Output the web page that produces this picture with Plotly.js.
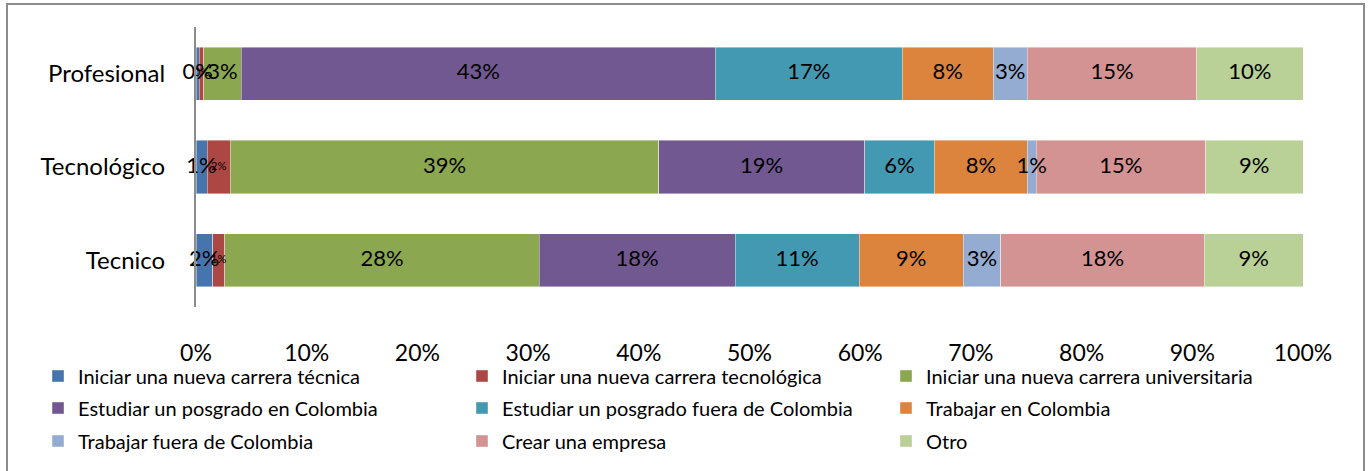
<!DOCTYPE html>
<html>
<head>
<meta charset="utf-8">
<script src="https://cdn.plot.ly/plotly-3.0.1.min.js"></script>
<style>
  html, body { margin: 0; padding: 0; background: #fff; overflow: hidden; }
  #chart { width: 1369px; height: 471px; position: absolute; left: 0; top: 0; }
  #frame { position: absolute; left: 6px; top: 3px; width: 1355px; height: 500px;
           border: 2px solid #8c8c8c; pointer-events: none; }
</style>
</head>
<body>
<div id="chart"></div>
<div id="frame"></div>
<script>
// Categories (top to bottom)
const categories = ["Profesional", "Tecnológico", "Tecnico"];

// Series names
const seriesNames = [
  "Iniciar una nueva carrera técnica",
  "Iniciar una nueva carrera tecnológica",
  "Iniciar una nueva carrera universitaria",
  "Estudiar un posgrado en Colombia",
  "Estudiar un posgrado fuera de Colombia",
  "Trabajar en Colombia",
  "Trabajar fuera de Colombia",
  "Crear una empresa",
  "Otro"
];

// Values (%) per series, in category order [Profesional, Tecnológico, Tecnico]
const carreraTecnica       = [0.3, 1.0, 1.5];
const carreraTecnologica   = [0.4, 2.1, 1.1];
const carreraUniversitaria = [3.4, 38.7, 28.4];
const posgradoColombia     = [42.8, 18.6, 17.7];
const posgradoFuera        = [16.9, 6.3, 11.2];
const trabajarColombia     = [8.2, 8.4, 9.4];
const trabajarFuera        = [3.1, 0.8, 3.4];
const crearEmpresa         = [15.3, 15.3, 18.4];
const otro                 = [9.6, 8.8, 8.9];

// X tick labels
const xTickVals = [0, 10, 20, 30, 40, 50, 60, 70, 80, 90, 100];
const xTickText = ["0%", "10%", "20%", "30%", "40%", "50%", "60%", "70%", "80%", "90%", "100%"];

const seriesValues = [carreraTecnica, carreraTecnologica, carreraUniversitaria,
  posgradoColombia, posgradoFuera, trabajarColombia, trabajarFuera, crearEmpresa, otro];

const colors = ["#4674AC", "#AC4744", "#8BA74F", "#725890", "#4299B1",
                "#DC843E", "#95ACD2", "#D39392", "#B9D097"];
const labelSizes = [22, 11, 22, 22, 22, 22, 22, 22, 22];
const FONT = "Lato, 'Open Sans', sans-serif";

// legend placement (3 columns x 3 rows), in container pixels
const legendColX = [38, 462, 886];
const legendRowY = [376, 408, 441];

const traces = [];
const cum = categories.map(() => 0);
seriesValues.forEach((vals, i) => {
  traces.push({
    type: "bar",
    orientation: "h",
    name: seriesNames[i],
    y: categories,
    x: vals,
    marker: { color: colors[i], line: { color: "rgba(255,255,255,0.6)", width: 0.7 } },
    textposition: "none",
    hoverinfo: "name+x",
    legend: i === 0 ? "legend" : "legend" + (i + 1)
  });
});
// Data labels centered in segments
seriesValues.forEach((vals, i) => {
  const mids = vals.map((v, k) => { const m = cum[k] + v / 2; cum[k] += v; return m; });
  traces.push({
    type: "scatter",
    mode: "text",
    x: mids,
    y: categories,
    customdata: vals,
    texttemplate: "%{customdata:.0f}%",
    textposition: "middle center",
    textfont: { family: FONT, size: labelSizes[i], color: "#000" },
    showlegend: false,
    hoverinfo: "skip",
    cliponaxis: false
  });
});

const layout = {
  width: 1369, height: 471,
  paper_bgcolor: "#fff", plot_bgcolor: "#fff",
  margin: { l: 196, r: 66, t: 27, b: 164 },
  barmode: "stack",
  bargap: 0.43,
  showlegend: true,
  font: { family: FONT, color: "#000" },
  xaxis: {
    range: [0, 100],
    tickvals: xTickVals, ticktext: xTickText,
    showgrid: false, zeroline: false, showline: false,
    ticks: "", ticklabelstandoff: 30,
    tickfont: { family: FONT, size: 23, color: "#000" },
    fixedrange: true
  },
  yaxis: {
    categoryorder: "array", categoryarray: categories,
    autorange: "reversed",
    showgrid: false, zeroline: false,
    showline: true, linecolor: "#8c8c8c", linewidth: 2,
    ticks: "", ticklabelstandoff: 24,
    tickfont: { family: FONT, size: 24, color: "#000" },
    fixedrange: true
  }
};

seriesNames.forEach((n, i) => {
  const key = i === 0 ? "legend" : "legend" + (i + 1);
  layout[key] = {
    orientation: "h",
    xref: "container", yref: "container",
    x: legendColX[i % 3] / 1369, xanchor: "left",
    y: 1 - legendRowY[Math.floor(i / 3)] / 471, yanchor: "middle",
    font: { family: FONT, size: 20, color: "#000" },
    bgcolor: "rgba(0,0,0,0)"
  };
});

Plotly.newPlot("chart", traces, layout, { displayModeBar: false, staticPlot: true });
</script>
</body>
</html>
